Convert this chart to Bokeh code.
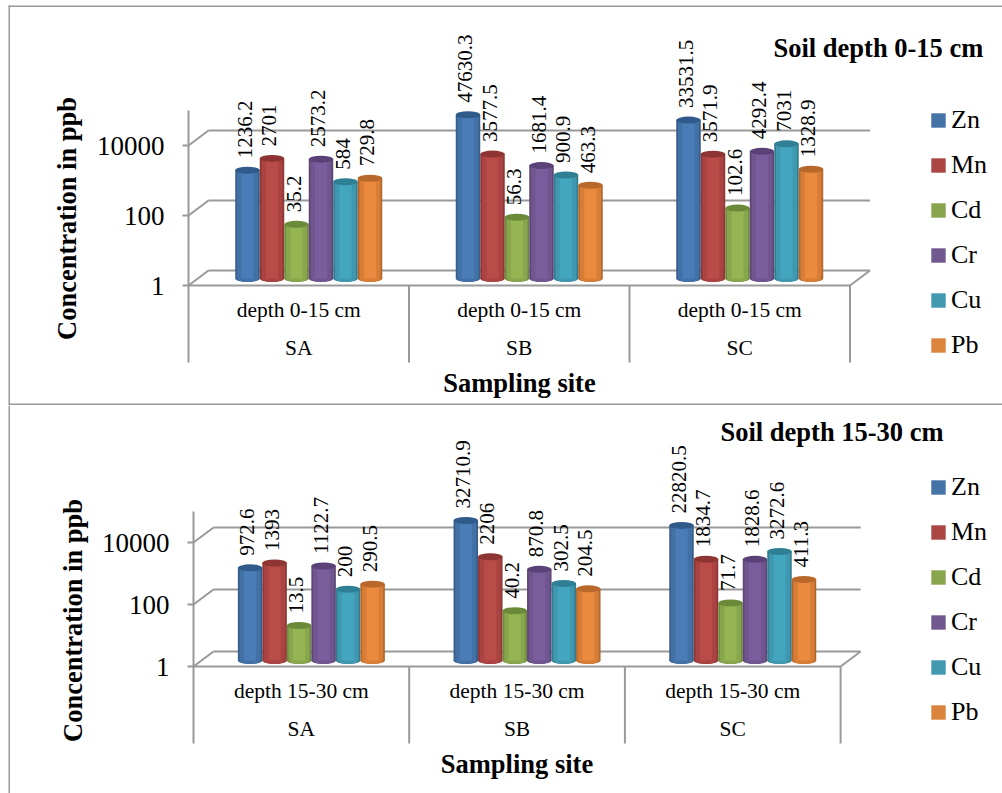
from math import pi
from bokeh.plotting import figure
from bokeh.layouts import column
from bokeh.embed import file_html
from bokeh.resources import INLINE
from bokeh.core.properties import value
from bokeh.models import (Range1d, LogScale, LinearAxis, LogAxis, FixedTicker, Legend, LegendItem,
                          ColumnDataSource, Label, BoxAnnotation, NumeralTickFormatter)

metals = ["Zn", "Mn", "Cd", "Cr", "Cu", "Pb"]
sites = ["SA", "SB", "SC"]
depth_a = "depth 0-15 cm"
depth_b = "depth 15-30 cm"
title_a = "Soil depth 0-15 cm"
title_b = "Soil depth 15-30 cm"
y_ticks = [1, 100, 10000]

zn_a = [1236.2, 47630.3, 33531.5]
mn_a = [2701, 3577.5, 3571.9]
cd_a = [35.2, 56.3, 102.6]
cr_a = [2573.2, 1681.4, 4292.4]
cu_a = [584, 900.9, 7031]
pb_a = [729.8, 463.3, 1328.9]

zn_b = [972.6, 32710.9, 22820.5]
mn_b = [1393, 2206, 1834.7]
cd_b = [13.5, 40.2, 71.7]
cr_b = [1122.7, 870.8, 1828.6]
cu_b = [200, 302.5, 3272.6]
pb_b = [290.5, 204.5, 411.3]

main_col = ["#4A7DB8", "#B94B48", "#94B552", "#7A5D9C", "#44A5BF", "#EB8A3E"]
mid_col = ["#4271A6", "#AA4341", "#88A64B", "#70558F", "#3F98B0", "#D87D36"]
edge_col = ["#375E8B", "#8C3836", "#70893E", "#5D4776", "#347D91", "#B2672D"]
top_col = ["#2F5A8A", "#8E3533", "#6A8A3A", "#5A4278", "#2F7F95", "#B8682A"]
legend_col = ["#4572A7", "#AA4643", "#89A54E", "#71588F", "#4198AF", "#DB843D"]
GRAY = "#999999"
SERIF = "Liberation Serif"
WIDTH = 1002


def chart(series, depth_label, title, left, top, bottom, floor, decade, cell, bar_shift,
          title_pos, legend_bottom, title_mid, title_x, is_upper):
    w, h = WIDTH, bottom - top
    x0 = -left / cell
    back_dx, back_dy = 20 / cell, 15
    y_lo, y_hi = floor - bottom, floor - top

    def rng(px):
        return Range1d(10 ** ((y_lo - px) / decade), 10 ** ((y_hi - px) / decade))

    p = figure(frame_width=w, frame_height=h, y_axis_type="log",
               x_range=Range1d(x0, x0 + w / cell), y_range=rng(0),
               toolbar_location=None, output_backend="svg",
               min_border_left=0, min_border_right=0, min_border_top=0, min_border_bottom=0,
               outline_line_color=None, background_fill_color=None, border_fill_color=None)
    p.grid.visible = False
    p.extra_y_ranges = {"bars": rng(bar_shift), "back": rng(back_dy)}
    p.extra_y_scales = {"bars": LogScale(), "back": LogScale()}

    # y axis
    ya = p.yaxis[0]
    ya.fixed_location = 0
    ya.ticker = FixedTicker(ticks=y_ticks, minor_ticks=[])
    ya.formatter = NumeralTickFormatter(format="0")
    ya.bounds = (1, 100000)
    ya.axis_line_color = GRAY
    ya.axis_line_width = 2
    ya.major_tick_line_color = GRAY
    ya.major_tick_line_width = 2
    ya.major_tick_in = 0
    ya.major_tick_out = 6
    ya.minor_tick_line_color = None
    ya.major_label_text_font = SERIF
    ya.major_label_text_font_size = "27px"
    ya.major_label_text_color = "black"
    ya.major_label_standoff = 18

    yt = LogAxis(ticker=FixedTicker(ticks=[], minor_ticks=[]), fixed_location=(title_x - left) / cell,
                 bounds=(10 ** ((floor - title_mid - 120) / decade), 10 ** ((floor - title_mid + 120) / decade)))
    yt.axis_line_color = None
    yt.major_tick_line_color = None
    yt.minor_tick_line_color = None
    yt.axis_label = "Concentration in ppb"
    yt.axis_label_text_font = SERIF
    yt.axis_label_text_font_style = "bold"
    yt.axis_label_text_font_size = "26.5px"
    yt.axis_label_text_color = "black"
    yt.axis_label_standoff = 0
    p.add_layout(yt, "left")

    # x axes
    xa = p.xaxis[0]
    xa.fixed_location = 1
    xa.ticker = FixedTicker(ticks=[0.5, 1.5, 2.5], minor_ticks=[])
    xa.major_label_overrides = {i + 0.5: depth_label for i in range(3)}
    xa.bounds = (0, 3)
    xa.axis_line_color = GRAY
    xa.axis_line_width = 2
    xa.major_tick_line_color = None
    xa.minor_tick_line_color = None
    xa.major_label_text_font = SERIF
    xa.major_label_text_font_size = "21.5px"
    xa.major_label_text_color = "black"
    xa.major_label_standoff = 6
    xb = LinearAxis(ticker=FixedTicker(ticks=[0.5, 1.5, 2.5], minor_ticks=[]), fixed_location=1, bounds=(0, 3),
                    major_label_overrides={i + 0.5: sites[i] for i in range(3)})
    xb.axis_line_color = None
    xb.major_tick_line_color = None
    xb.minor_tick_line_color = None
    xb.major_label_text_font = SERIF
    xb.major_label_text_font_size = "21.5px"
    xb.major_label_text_color = "black"
    xb.major_label_standoff = 44
    xb.axis_label = "Sampling site"
    xb.axis_label_text_font = SERIF
    xb.axis_label_text_font_style = "bold"
    xb.axis_label_text_font_size = "26.5px"
    xb.axis_label_text_color = "black"
    xb.axis_label_standoff = 5
    p.add_layout(xb, "below")

    # cell dividers, back wall and side diagonals
    p.segment(x0=[0, 1, 2, 3], x1=[0, 1, 2, 3], y0=[1] * 4, y1=[10 ** (-77 / decade)] * 4,
              line_color=GRAY, line_width=2)
    n = len(y_ticks)
    p.segment(x0=[back_dx] * n, x1=[3 + back_dx] * n, y0=y_ticks, y1=y_ticks, y_range_name="back",
              line_color=GRAY, line_width=2)
    ratio = 10 ** (back_dy / decade)
    p.segment(x0=[0] * n, x1=[back_dx] * n, y0=y_ticks, y1=[t * ratio for t in y_ticks],
              line_color=GRAY, line_width=2)
    p.segment(x0=[3], x1=[3 + back_dx], y0=[1], y1=[ratio], line_color=GRAY, line_width=2)

    # cylinders
    bw = 24.5 / cell
    items = []
    for k, vals in enumerate(series):
        xs = [i + 0.5 + back_dx / 2 + (k - 2.5) * bw for i in range(3)]
        src = ColumnDataSource(dict(x=xs, top=vals, base=[1] * 3,
                                    txt=[f"{v:.10g}" for v in vals]))
        kw = dict(source=src, y_range_name="bars", line_color=None)
        p.ellipse(x="x", y="base", width=bw, height=7, height_units="screen",
                  fill_color=edge_col[k], **kw)
        p.vbar(x="x", bottom="base", top="top", width=bw, fill_color=edge_col[k], **kw)
        p.vbar(x="x", bottom="base", top="top", width=bw * 0.86, fill_color=mid_col[k], **kw)
        p.ellipse(x="x", y="base", width=bw * 0.86, height=7, height_units="screen",
                  fill_color=mid_col[k], **kw)
        p.vbar(x="x", bottom="base", top="top", width=bw * 0.5, fill_color=main_col[k], **kw)
        p.ellipse(x="x", y="top", width=bw, height=7, height_units="screen",
                  fill_color=top_col[k], **kw)
        swatch = p.vbar(x="x", bottom="base", top="base", width=0, fill_color=legend_col[k], **kw)
        items.append(LegendItem(label=value(metals[k]), renderers=[swatch]))
        p.text(x="x", y="top", text="txt", source=src, y_range_name="bars", angle=pi / 2,
               text_align="left", text_baseline="middle", x_offset=-3, y_offset=-12,
               text_font=value(SERIF), text_font_size="21px", text_color="black")

    lg = Legend(items=items, location=(929, bottom - legend_bottom), orientation="vertical",
                glyph_width=18, glyph_height=18, label_text_font=SERIF, label_text_font_size="26px",
                label_text_color="black", label_standoff=4, label_height=30, spacing=15,
                padding=0, margin=0, border_line_color=None, background_fill_color=None,
                background_fill_alpha=0)
    p.add_layout(lg, "center")

    x_t, y_t = title_pos
    p.add_layout(Label(x=(x_t - left) / cell, y=10 ** ((floor - y_t) / decade), text=title,
                       text_font=SERIF, text_font_style="bold", text_font_size="26.5px",
                       text_color="black", text_align="left", text_baseline="middle"))

    # frame lines of the picture
    def box(l, r, t, b):
        p.add_layout(BoxAnnotation(left=l, right=r, top=t, bottom=b,
                                   left_units="canvas", right_units="canvas",
                                   top_units="canvas", bottom_units="canvas",
                                   fill_color=GRAY, fill_alpha=1, line_color=None, level="overlay"))
    if is_upper:
        box(8, 9.5, 5, h)
        box(8, w, 5, 6.5)
        box(8, w, h - 2, h)
    else:
        box(8, 9.5, 0, h)
    return p


p1 = chart([zn_a, mn_a, cd_a, cr_a, cu_a, pb_a], depth_a, title_a, 188, 0, 405, 285, 35, 220.5, 7,
           (773, 47), 360, 218, 81, True)
p2 = chart([zn_b, mn_b, cd_b, cr_b, cu_b, pb_b], depth_b, title_b, 193, 405, 793, 666, 31, 215.7, 6,
           (720, 431), 727, 620, 87, False)

root = column(p1, p2, spacing=0)
open("out.html", "w").write(file_html(root, INLINE))
